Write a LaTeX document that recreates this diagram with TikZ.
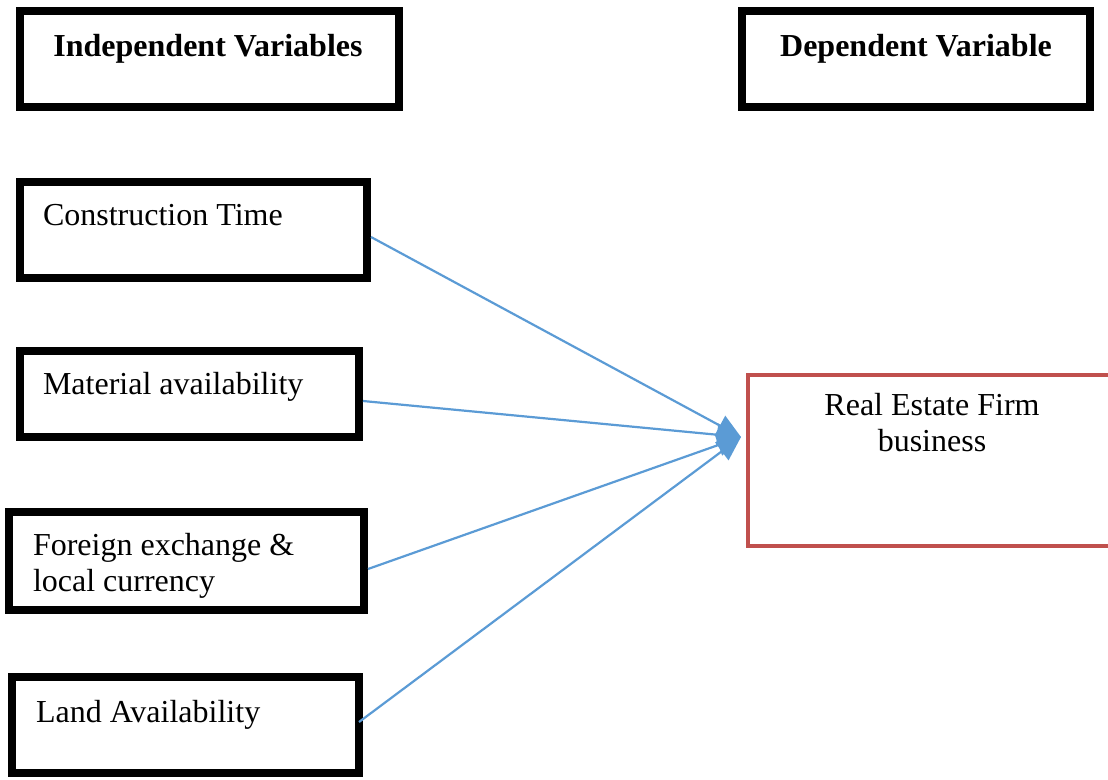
\documentclass[tikz,border=0pt]{standalone}
\usepackage{fontspec}
\setmainfont{Liberation Serif}
\usetikzlibrary{arrows.meta}
\definecolor{conblue}{HTML}{5B9BD5}
\definecolor{boxred}{HTML}{C0504D}
\begin{document}
\begin{tikzpicture}[x=1pt,y=-1pt,
  varbox/.style={draw=black,line width=8.5pt,rectangle,inner sep=0pt,outer sep=0pt},
  depbox/.style={draw=boxred,line width=4.5pt,rectangle,inner sep=0pt,outer sep=0pt},
  lbl/.style={inner sep=0pt,outer sep=0pt,font=\fontsize{32}{36}\selectfont},
  head/.style={inner sep=0pt,outer sep=0pt,font=\fontsize{32}{36}\selectfont\bfseries},
  link/.style={draw=conblue,line width=2.2pt,-{Triangle[length=24pt,width=22pt]}}]
\useasboundingbox (0,0) rectangle (1108,779);
% boxes
\node[varbox,minimum width=379pt,minimum height=96pt] (iv) at (209.5,59) {};
\node[varbox,minimum width=348pt,minimum height=96pt] (dv) at (916,59) {};
\node[varbox,minimum width=347pt,minimum height=96pt] (ct) at (193.5,230) {};
\node[varbox,minimum width=339pt,minimum height=86pt] (ma) at (189.5,394) {};
\node[varbox,minimum width=355pt,minimum height=98pt] (fx) at (186.5,561) {};
\node[varbox,minimum width=347pt,minimum height=96pt] (la) at (185.5,725) {};
\node[depbox,minimum width=368pt,minimum height=171pt] (re) at (932,460.5) {};
% texts
\node[head,anchor=base] (ivt) at (208,56) {Independent Variables};
\node[head,anchor=base] (dvt) at (916,56) {Dependent Variable};
\node[lbl,anchor=base west] (ctt) at (43,225) {Construction Time};
\node[lbl,anchor=base west] (mat) at (43,394) {Material availability};
\node[lbl,anchor=north west,align=left] (fxt) at (33,533) {Foreign exchange \&\\local currency};
\node[lbl,anchor=base west] (lat) at (36,722) {Land Availability};
\node[lbl,anchor=center,align=center] (ret) at (932,423) {Real Estate Firm\\business};
% connectors
\coordinate (tip) at (741,437);
\draw[link] ([xshift=4pt,yshift=-7pt]ct.east) -- (tip);
\draw[link] ([xshift=4pt,yshift=-7pt]ma.east) -- (tip);
\draw[link] ([xshift=4pt,yshift=-8pt]fx.east) -- (tip);
\draw[link] ([xshift=0pt,yshift=3pt]la.east) -- (tip);
\end{tikzpicture}
\end{document}
